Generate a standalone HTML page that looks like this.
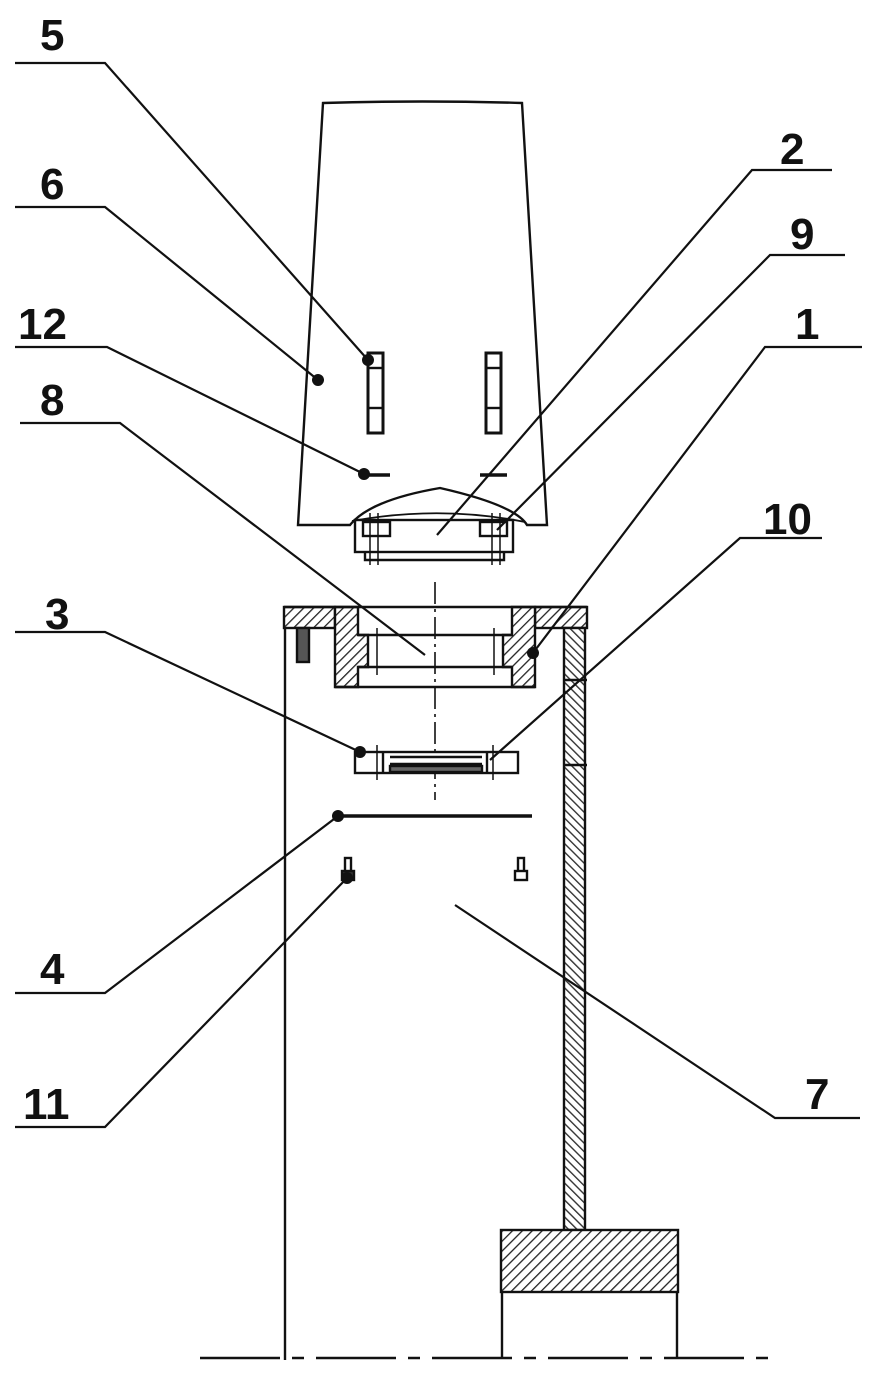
<!DOCTYPE html>
<html><head><meta charset="utf-8"><style>html,body{margin:0;padding:0;background:#fff}svg{display:block}</style></head><body>
<svg width="875" height="1376" viewBox="0 0 875 1376" xmlns="http://www.w3.org/2000/svg">
<defs>
<pattern id="h" width="7" height="7" patternUnits="userSpaceOnUse" patternTransform="rotate(45)"><rect width="7" height="7" fill="#fff"/><line x1="0" y1="0" x2="0" y2="7" stroke="#222" stroke-width="2.6"/></pattern>
<pattern id="h2" width="6" height="6" patternUnits="userSpaceOnUse" patternTransform="rotate(-45)"><rect width="6" height="6" fill="#fff"/><line x1="0" y1="0" x2="0" y2="6" stroke="#333" stroke-width="2.8"/></pattern>
</defs>
<g fill="none" stroke="#111" stroke-width="2.4">
<path d="M298,525 L323,103 Q422,100 522,103 L547,525 L527,525 Q515,505 440,488 Q370,500 350,525 Z" fill="#fff"/>
<path d="M352,521 Q440,505 525,522" stroke-width="1.8"/>
<rect x="355" y="520" width="158" height="32"/>
<rect x="363" y="522" width="27" height="14"/>
<rect x="480" y="522" width="27" height="14"/>
<path d="M365,552 V560 H504 V552" />
<line x1="370" y1="513" x2="370" y2="565" stroke-width="1.5"/><line x1="378" y1="513" x2="378" y2="565" stroke-width="1.5"/>
<line x1="492" y1="513" x2="492" y2="565" stroke-width="1.5"/><line x1="500" y1="513" x2="500" y2="565" stroke-width="1.5"/>
<rect x="368" y="353" width="15" height="80" stroke-width="3"/><line x1="368" y1="368" x2="383" y2="368"/><line x1="368" y1="408" x2="383" y2="408"/>
<rect x="486" y="353" width="15" height="80" stroke-width="3"/><line x1="486" y1="368" x2="501" y2="368"/><line x1="486" y1="408" x2="501" y2="408"/>
<line x1="364" y1="475" x2="390" y2="475" stroke-width="3.5"/>
<line x1="480" y1="475" x2="507" y2="475" stroke-width="3.5"/>
<line x1="435" y1="582" x2="435" y2="800" stroke-width="1.6" stroke-dasharray="22,5,3,5"/>
<line x1="285" y1="607" x2="285" y2="1360"/>
<rect x="284" y="607" width="51" height="21" fill="url(#h)"/>
<rect x="535" y="607" width="52" height="21" fill="url(#h)"/>
<rect x="564" y="628" width="21" height="602" fill="url(#h2)"/>
<line x1="564" y1="680" x2="587" y2="680"/><line x1="564" y1="765" x2="587" y2="765"/>
<rect x="297" y="628" width="12" height="34" fill="#555"/>
<path d="M335,607 H358 V635 H368 V667 H358 V687 H335 Z" fill="url(#h)"/>
<path d="M535,607 H512 V635 H503 V667 H512 V687 H535 Z" fill="url(#h)"/>
<line x1="284" y1="607" x2="587" y2="607"/>
<line x1="358" y1="635" x2="512" y2="635"/><line x1="358" y1="667" x2="512" y2="667"/><line x1="335" y1="687" x2="535" y2="687"/>
<line x1="377" y1="628" x2="377" y2="675" stroke-width="1.5"/><line x1="494" y1="628" x2="494" y2="675" stroke-width="1.5"/>
<rect x="355" y="752" width="163" height="21" fill="#fff"/>
<line x1="390" y1="757" x2="482" y2="757"/><line x1="390" y1="764" x2="482" y2="764"/>
<rect x="390" y="766" width="92" height="6" fill="#666"/>
<line x1="377" y1="745" x2="377" y2="780" stroke-width="1.5"/><line x1="493" y1="745" x2="493" y2="780" stroke-width="1.5"/>
<line x1="383" y1="752" x2="383" y2="773"/><line x1="487" y1="752" x2="487" y2="773"/>
<line x1="338" y1="816" x2="532" y2="816" stroke-width="3.5"/>
<rect x="345" y="858" width="6" height="14"/><rect x="342" y="871" width="12" height="9" fill="#333"/>
<rect x="518" y="858" width="6" height="14"/><rect x="515" y="871" width="12" height="9" fill="#fff"/>
<rect x="501" y="1230" width="177" height="62" fill="url(#h)"/>
<line x1="502" y1="1292" x2="502" y2="1358"/><line x1="677" y1="1292" x2="677" y2="1358"/>
<line x1="200" y1="1358" x2="770" y2="1358" stroke-dasharray="80,12,12,12"/>
<g stroke-width="2.2">
<polyline points="15,63 105,63 368,360"/>
<polyline points="15,207 105,207 318,380"/>
<polyline points="15,347 107,347 364,474"/>
<polyline points="20,423 120,423 425,655"/>
<polyline points="15,632 105,632 360,752"/>
<polyline points="15,993 105,993 338,816"/>
<polyline points="15,1127 105,1127 347,878"/>
<polyline points="832,170 752,170 437,535"/>
<polyline points="845,255 770,255 497,530"/>
<polyline points="862,347 765,347 533,653"/>
<polyline points="822,538 740,538 490,760"/>
<polyline points="860,1118 775,1118 455,905"/>
</g>
</g>
<g fill="#111">
<circle cx="368" cy="360" r="6"/><circle cx="318" cy="380" r="6"/><circle cx="364" cy="474" r="6"/>
<circle cx="533" cy="653" r="6"/><circle cx="360" cy="752" r="6"/><circle cx="338" cy="816" r="6"/><circle cx="347" cy="878" r="6"/>
</g>
<g font-family="Liberation Sans, sans-serif" font-size="44" font-weight="bold" fill="#111">
<text x="40" y="50">5</text><text x="40" y="199">6</text><text x="18" y="339">12</text><text x="40" y="415">8</text>
<text x="45" y="629">3</text><text x="40" y="984">4</text><text x="23" y="1119">11</text>
<text x="780" y="164">2</text><text x="790" y="249">9</text><text x="795" y="339">1</text><text x="763" y="534">10</text><text x="805" y="1109">7</text>
</g>
</svg>
</body></html>
